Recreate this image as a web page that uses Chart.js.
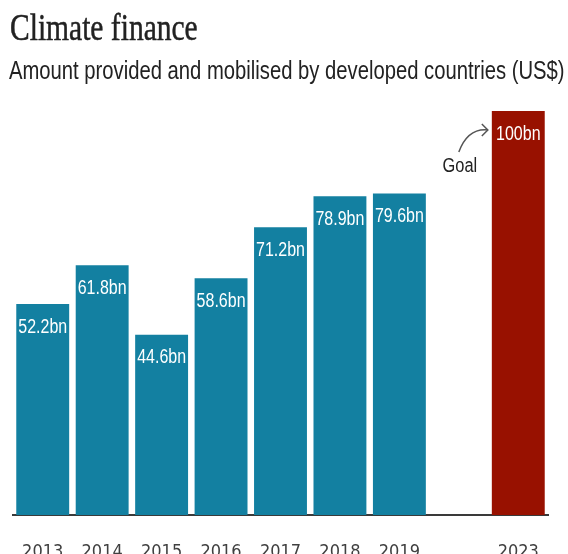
<!DOCTYPE html>
<html>
<head>
<meta charset="utf-8">
<script src="https://cdn.jsdelivr.net/npm/chart.js@4"></script>
<style>
  html, body { margin: 0; padding: 0; background: #fff; overflow: hidden; width: 568px; height: 554px; }
  #wrap { position: relative; width: 568px; height: 554px; }
  h1 { position: absolute; left: 10px; top: 5px; margin: 0; font: 38px/normal "Liberation Serif", serif; color: #222; -webkit-text-stroke: 0.5px #222; white-space: nowrap; transform-origin: 0 0; z-index: 2; }
  .sub { position: absolute; left: 9px; top: 56px; margin: 0; font: 25px/normal "Liberation Sans", sans-serif; color: #222; white-space: nowrap; transform-origin: 0 0; z-index: 2; }
  canvas { position: absolute; left: 0; top: 0; }
</style>
</head>
<body>
<div id="wrap">
  <h1 id="title">Climate finance</h1>
  <p class="sub" id="sub">Amount provided and mobilised by developed countries (US$)</p>
  <canvas id="chart" width="568" height="570"></canvas>
</div>
<script>
// datos
const years = ['2013', '2014', '2015', '2016', '2017', '2018', '2019', '', '2023'];
const amounts = [52.2, 61.8, 44.6, 58.6, 71.2, 78.9, 79.6, null, 100];
const barLabels = ['52.2bn', '61.8bn', '44.6bn', '58.6bn', '71.2bn', '78.9bn', '79.6bn', '', '100bn'];
const goalYear = '2023';

const teal = '#1380a1';
const red = '#981100';

// título y subtítulo estrechos, como el original
function squeeze(id, w) {
  const el = document.getElementById(id);
  el.style.transform = 'scaleX(' + (w / el.offsetWidth) + ')';
}
squeeze('title', 188);
squeeze('sub', 556);

// texto estrecho en el canvas
function narrowText(c, txt, x, y, sx) {
  c.save();
  c.translate(x, y);
  c.scale(sx, 1);
  c.fillText(txt, 0, 0);
  c.restore();
}

// etiquetas dentro de las barras + anotación "Goal"
const labelPlugin = {
  id: 'barLabels',
  afterDatasetsDraw(chart) {
    const c = chart.ctx;
    const meta = chart.getDatasetMeta(0);
    c.save();
    c.fillStyle = '#fff';
    c.font = '20px "Liberation Sans", sans-serif';
    c.textAlign = 'center';
    c.textBaseline = 'middle';
    meta.data.forEach((bar, i) => {
      if (amounts[i] == null) return;
      narrowText(c, barLabels[i], bar.x, bar.y + 23, 0.8);
    });

    // Goal
    const g = meta.data[years.indexOf(goalYear)];
    const left = g.x - g.width / 2;
    c.fillStyle = '#222';
    narrowText(c, 'Goal', left - 32, g.y + 55, 0.82);
    c.strokeStyle = '#555';
    c.lineWidth = 1.5;
    c.beginPath();
    c.moveTo(left - 33, g.y + 41);
    c.quadraticCurveTo(left - 24, g.y + 17, left - 4, g.y + 19);
    c.stroke();
    c.beginPath();
    c.moveTo(left - 10, g.y + 13);
    c.lineTo(left - 4, g.y + 19);
    c.lineTo(left - 10, g.y + 25);
    c.stroke();
    c.restore();
  }
};

new Chart(document.getElementById('chart'), {
  type: 'bar',
  data: {
    labels: years,
    datasets: [{
      data: amounts,
      backgroundColor: years.map(y => y === goalYear ? red : teal),
      categoryPercentage: 1,
      barPercentage: 0.89
    }]
  },
  options: {
    responsive: false,
    animation: false,
    layout: { padding: { left: 13, right: 20, top: 111, bottom: 15 } },
    plugins: {
      legend: { display: false },
      tooltip: { enabled: false }
    },
    scales: {
      x: {
        afterFit(scale) { scale.height = 40; },
        grid: { display: false },
        border: { display: true, color: '#3a3a3a', width: 2 },
        ticks: {
          color: '#404040',
          padding: 19,
          font: { family: '"DejaVu Sans Condensed", sans-serif', size: 18 }
        }
      },
      y: {
        display: false,
        min: 0,
        max: 100
      }
    }
  },
  plugins: [labelPlugin]
});
</script>
</body>
</html>
